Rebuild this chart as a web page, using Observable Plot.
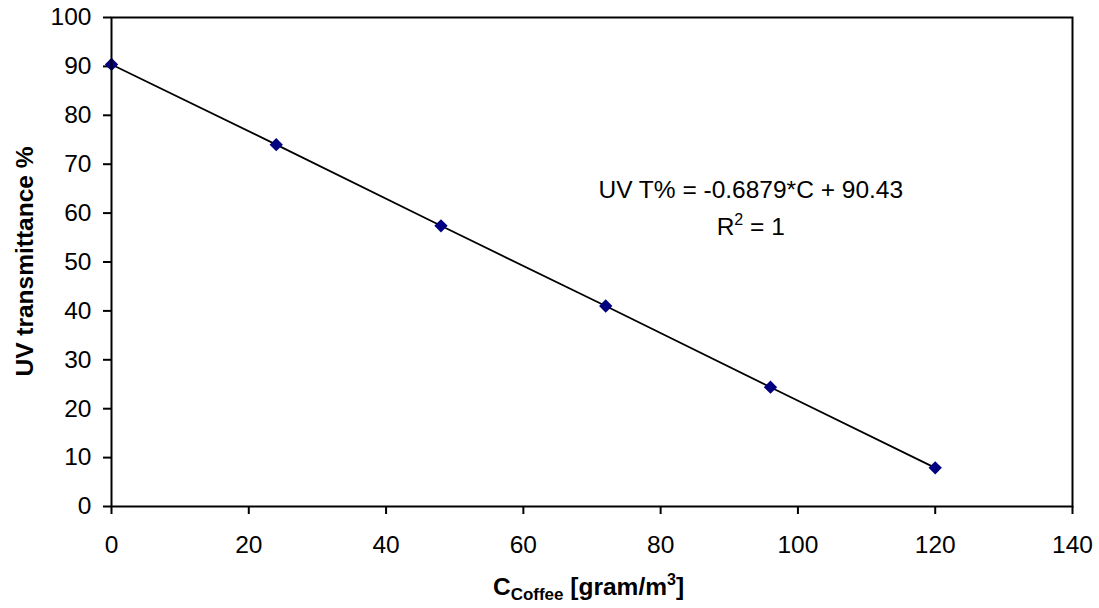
<!DOCTYPE html>
<html><head><meta charset="utf-8">
<script src="https://cdn.jsdelivr.net/npm/d3@7"></script>
<script src="https://cdn.jsdelivr.net/npm/@observablehq/plot@0.6"></script>
<style>
body{margin:0;background:#fff} svg{display:block}
</style>
</head><body><div id="chart"></div>
<script>
const concentration = [0, 24, 48, 72, 96, 120];
const transmittance = [90.4, 74.0, 57.4, 41.0, 24.4, 7.9];
const xTicks = [0, 20, 40, 60, 80, 100, 120, 140];
const yTicks = [0, 10, 20, 30, 40, 50, 60, 70, 80, 90, 100];
const equationText = "UV T% = -0.6879*C + 90.43";
const r2Text = " = 1";
const yTitle = "UV transmittance %";
const xTitleMain = "C";
const xTitleSub = "Coffee";
const xTitleUnit = " [gram/m";
const xTitleSup = "3";
const annotationAt = {x: 93.2, y: 63.0};

const data = concentration.map((c, i) => ({c, t: transmittance[i]}));
const font = "'Liberation Sans', Arial, sans-serif";

const plot = Plot.plot({
  width: 1099,
  height: 608,
  marginLeft: 111,
  marginRight: 27,
  marginTop: 17,
  marginBottom: 102,
  style: {fontFamily: font, fontSize: "24.5px", color: "#000", background: "#fff"},
  x: {domain: [0, 140]},
  y: {domain: [0, 100]},
  marks: [
    Plot.axisX({ticks: xTicks, tickSize: 8, tickPadding: 21, label: null, stroke: "#000", strokeWidth: 2, fontSize: 24.5}),
    Plot.axisY({ticks: yTicks, tickSize: 8, tickPadding: 12, label: null, stroke: "#000", strokeWidth: 2, fontSize: 24.5}),
    Plot.lineY(data, {x: "c", y: "t", stroke: "#000", strokeWidth: 1.8}),
    Plot.dot(data, {x: "c", y: "t", symbol: "diamond2", r: 6, fill: "#000080", stroke: "none"}),
    Plot.frame({stroke: "#000", strokeWidth: 2})
  ]
});
document.getElementById("chart").append(plot);

const svg = d3.select(plot);
// enforce tick label size
svg.selectAll("g").filter(function() { return this.querySelector(":scope > text"); })
  .style("font-size", "24.5px");
svg.selectAll("text").style("font-size", "24.5px").style("fill", "#000");

const xs = plot.scale("x"), ys = plot.scale("y");
const cx = (xs.range[0] + xs.range[1]) / 2;
const cy = (ys.range[0] + ys.range[1]) / 2;

// y axis title
svg.append("text")
  .attr("transform", `translate(33,${cy}) rotate(-90)`)
  .attr("text-anchor", "middle")
  .attr("font-family", font).attr("font-size", 24.5).attr("font-weight", "bold")
  .text(yTitle);

// x axis title
const xt = svg.append("text")
  .attr("x", cx - 3).attr("y", 595)
  .attr("text-anchor", "middle")
  .attr("font-family", font).attr("font-size", 24.5).attr("font-weight", "bold");
xt.append("tspan").text(xTitleMain);
xt.append("tspan").attr("dy", 5).attr("font-size", 17).text(xTitleSub);
xt.append("tspan").attr("dy", -5).text(xTitleUnit);
xt.append("tspan").attr("dy", -10).attr("font-size", 16).text(xTitleSup);
xt.append("tspan").attr("dy", 10).text("]");

// annotation
const ax = xs.apply(annotationAt.x), ay = ys.apply(annotationAt.y);
svg.append("text")
  .attr("x", ax).attr("y", ay)
  .attr("text-anchor", "middle")
  .attr("font-family", font).attr("font-size", 24.5)
  .text(equationText);
const r2 = svg.append("text")
  .attr("x", ax).attr("y", ay + 37)
  .attr("text-anchor", "middle")
  .attr("font-family", font).attr("font-size", 24.5);
r2.append("tspan").text("R");
r2.append("tspan").attr("dy", -10).attr("font-size", 16).text("2");
r2.append("tspan").attr("dy", 10).text(r2Text);
</script>
</body></html>
